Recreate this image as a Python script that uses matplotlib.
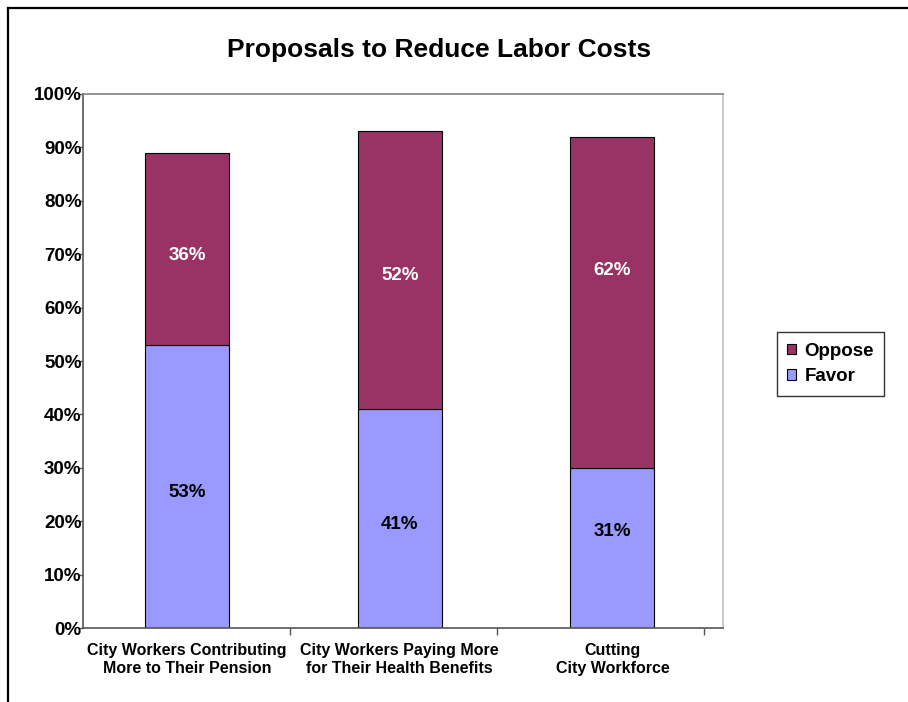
import matplotlib.pyplot as plt
from matplotlib.lines import Line2D
from matplotlib.ticker import PercentFormatter

plt.rcParams['font.family'] = ['Liberation Sans', 'DejaVu Sans']
plt.rcParams['font.weight'] = 'bold'

categories = ['City Workers Contributing\nMore to Their Pension',
              'City Workers Paying More\nfor Their Health Benefits',
              'Cutting\nCity Workforce']
favor = [53, 41, 30]
oppose = [36, 52, 62]
favor_labels = ['53%', '41%', '31%']
oppose_labels = ['36%', '52%', '62%']

# where the original chart puts its value labels (in % units)
favor_label_y = [25.3, 19.3, 18.0]
oppose_label_y = [69.8, 66.0, 66.9]

favor_color = '#9999FF'
oppose_color = '#993366'

fig = plt.figure(figsize=(9.08, 7.02), dpi=100)
ax = fig.add_axes([0.0914, 0.1054, 0.7048, 0.7607])

x = range(len(categories))
width = 0.395
b1 = ax.bar(x, favor, width, color=favor_color, edgecolor='black', linewidth=0.8, label='Favor')
b2 = ax.bar(x, oppose, width, bottom=favor, color=oppose_color, edgecolor='black', linewidth=0.8, label='Oppose')

for i in x:
    ax.text(i, favor_label_y[i], favor_labels[i], ha='center', va='center',
            fontsize=13.5, fontweight='bold', color='black')
    ax.text(i, oppose_label_y[i], oppose_labels[i], ha='center', va='center',
            fontsize=13.5, fontweight='bold', color='white')

ax.set_xlim(-0.49, 2.52)
ax.set_ylim(0, 100)
ax.set_yticks(range(0, 101, 10))
ax.yaxis.set_major_formatter(PercentFormatter(decimals=0))
ax.tick_params(axis='y', direction='out', length=3, width=1, color='#555555',
               labelsize=13.5, pad=-2)

# category boundary ticks, labels placed separately
ax.set_xticks([0.484, 1.457, 2.43])
ax.set_xticklabels([])
ax.tick_params(axis='x', direction='out', length=5, width=1, color='#555555')
for i, c in enumerate(categories):
    ax.text(i, -2.9, c, ha='center', va='top', fontsize=11.5, fontweight='bold',
            transform=ax.transData, linespacing=1.18)

for lbl in ax.get_yticklabels():
    lbl.set_fontweight('bold')

ax.spines['left'].set_color('#555555')
ax.spines['bottom'].set_color('#555555')
ax.spines['top'].set_color('#808080')
ax.spines['right'].set_color('#c0c0c0')
for s in ax.spines.values():
    s.set_linewidth(1.2)

fig.text(0.484, 0.929, 'Proposals to Reduce Labor Costs', ha='center', va='center',
         fontsize=19, fontweight='bold')

leg = fig.legend(handles=[b2, b1], labels=['Oppose', 'Favor'],
                 loc='center', bbox_to_anchor=(0.9147, 0.4815), frameon=True,
                 fancybox=False, edgecolor='black', fontsize=13.5,
                 handlelength=0.48, handleheight=0.48, handletextpad=0.45,
                 borderpad=0.55, labelspacing=0.45, borderaxespad=0)
leg.get_frame().set_linewidth(1.0)
for t in leg.get_texts():
    t.set_fontweight('bold')

# outer frame (top and left edges)
fig.add_artist(Line2D([8 / 908, 1.0], [1 - 8 / 702, 1 - 8 / 702], color='black',
                      linewidth=1.6, transform=fig.transFigure))
fig.add_artist(Line2D([8 / 908, 8 / 908], [0.0, 1 - 8 / 702], color='black',
                      linewidth=1.6, transform=fig.transFigure))

fig.savefig('out.png', dpi=100)
